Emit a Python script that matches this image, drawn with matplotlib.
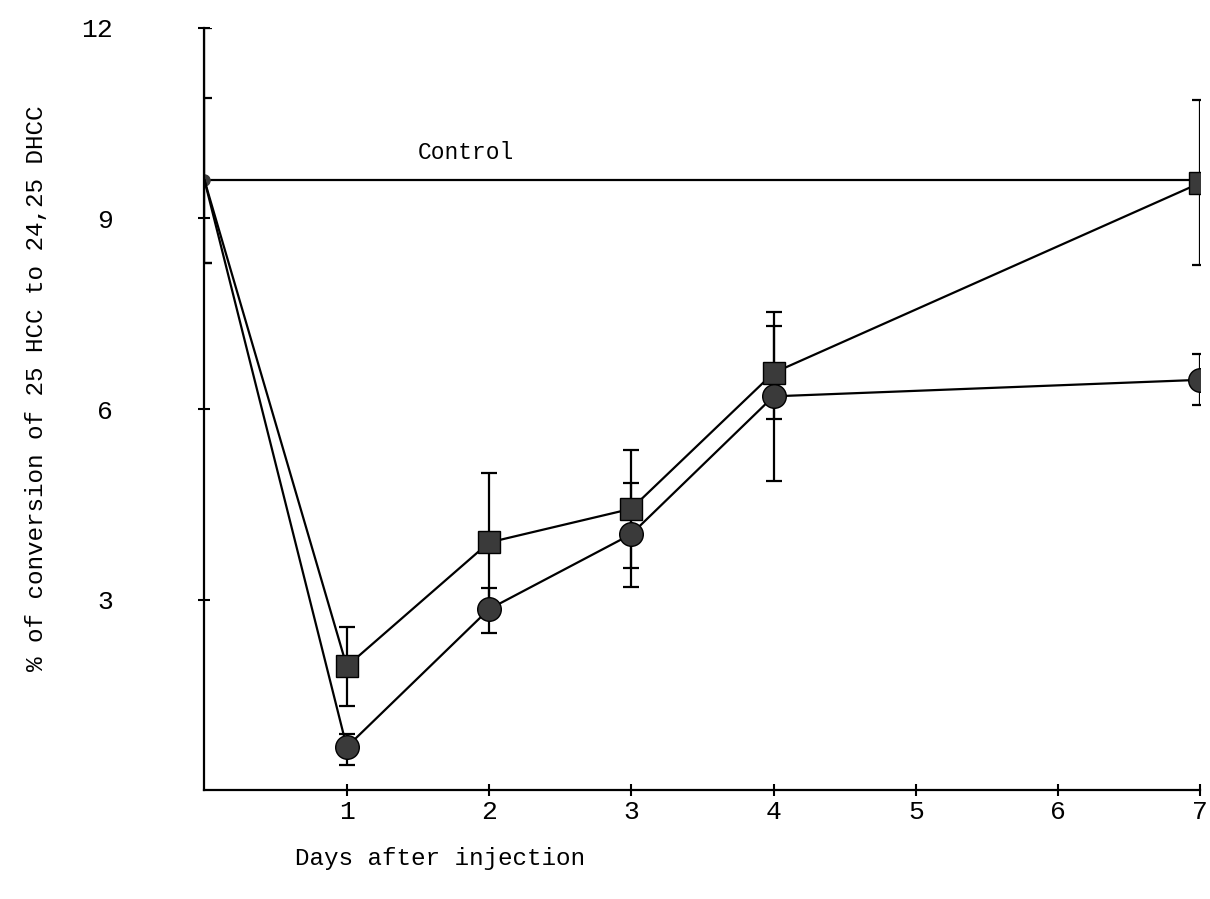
import matplotlib.pyplot as plt
import numpy as np

# days after injection
days = [0, 1, 2, 3, 4, 7]

# squares
sq_mean = [9.6, 1.95, 3.9, 4.43, 6.57, 9.56]
sq_err = [1.3, 0.62, 1.1, 0.93, 0.73, 1.3]

# circles
ci_mean = [9.6, 0.68, 2.85, 4.03, 6.2, 6.46]
ci_err_low = [1.3, 0.28, 0.38, 0.83, 1.33, 0.4]
ci_err_high = [2.4, 0.2, 0.33, 0.8, 1.33, 0.41]

control_days = [0, 7]
control_val = [9.6, 9.6]

x_ticks = [1, 2, 3, 4, 5, 6, 7]
y_ticks = [3, 6, 9, 12]

plt.rcParams['font.family'] = ['Liberation Mono', 'DejaVu Sans Mono']

fig = plt.figure(figsize=(12.1, 8.99), dpi=100)
ax = fig.add_axes([0.169, 0.121, 0.823, 0.848])

# linea di controllo
ax.plot(control_days, control_val, color='black', linewidth=1.6)
ax.text(1.5, 9.85, 'Control', fontsize=16.5, ha='left', va='bottom')

ax.errorbar(days, sq_mean, yerr=sq_err, color='black', linewidth=1.6,
            marker='s', markersize=16, markerfacecolor='#3a3a3a',
            markeredgecolor='black', ecolor='black', elinewidth=1.6,
            capsize=6, capthick=1.6, markevery=slice(1, None))
ax.errorbar(days, ci_mean, yerr=[ci_err_low, ci_err_high], color='black',
            linewidth=1.6, marker='o', markersize=17,
            markerfacecolor='#3a3a3a', markeredgecolor='black',
            ecolor='black', elinewidth=1.6, capsize=6, capthick=1.6,
            markevery=slice(1, None))
# punto iniziale comune
ax.plot(days[0], ci_mean[0], 'o', color='#3a3a3a', markersize=8)

ax.set_xlim(0, 7)
ax.set_ylim(0, 12)
ax.set_xticks(x_ticks)
ax.set_yticks(y_ticks)
ax.tick_params(axis='both', direction='inout', length=8, width=1.5,
               labelsize=19)
ax.tick_params(axis='x', pad=3)
ax.tick_params(axis='y', pad=62)

for side in ['top', 'right']:
    ax.spines[side].set_visible(False)
for side in ['left', 'bottom']:
    ax.spines[side].set_linewidth(1.6)

ax.set_xlabel('Days after injection', fontsize=17.5)
ax.xaxis.set_label_coords(0.236, -0.075)
ax.set_ylabel('% of conversion of 25 HCC to 24,25 DHCC', fontsize=17.5)
ax.yaxis.set_label_coords(-0.157, 0.527)

fig.savefig('out.png', dpi=100)
